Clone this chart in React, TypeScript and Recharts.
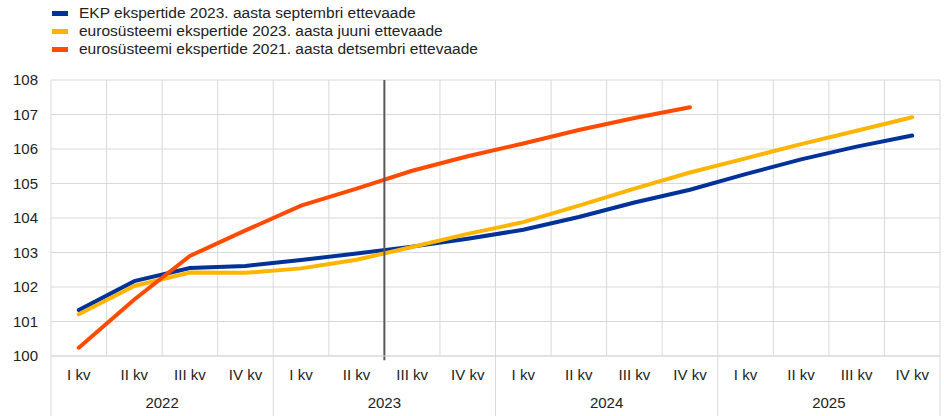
import { LineChart, Line, XAxis, YAxis, CartesianGrid, ReferenceLine } from "recharts";

const quarters = [
  "I kv", "II kv", "III kv", "IV kv",
  "I kv", "II kv", "III kv", "IV kv",
  "I kv", "II kv", "III kv", "IV kv",
  "I kv", "II kv", "III kv", "IV kv",
];
const years = [
  "2022", "2022", "2022", "2022",
  "2023", "2023", "2023", "2023",
  "2024", "2024", "2024", "2024",
  "2025", "2025", "2025", "2025",
];
const ecbSep2023 = [101.33, 102.17, 102.55, 102.61, 102.78, 102.97, 103.17, 103.4, 103.66, 104.03, 104.45, 104.82, 105.27, 105.7, 106.07, 106.39];
const eurosysJun2023 = [101.21, 102.03, 102.42, 102.41, 102.54, 102.79, 103.16, 103.54, 103.88, 104.36, 104.85, 105.32, 105.73, 106.14, 106.53, 106.92];
const eurosysDec2021 = [100.24, 101.64, 102.9, 103.64, 104.36, 104.85, 105.37, 105.79, 106.16, 106.55, 106.9, 107.21, null, null, null, null];
const yTicks = [100, 101, 102, 103, 104, 105, 106, 107, 108];
// category boundaries: grid lines sit here, labels sit half a band to the right
const boundaryTicks = [0, 1, 2, 3, 4, 5, 6, 7, 8, 9, 10, 11, 12, 13, 14, 15, 16];

const series = [
  { key: "ecb", name: "EKP ekspertide 2023. aasta septembri ettevaade", color: "#003299" },
  { key: "jun", name: "eurosüsteemi ekspertide 2023. aasta juuni ettevaade", color: "#FFB400" },
  { key: "dec", name: "eurosüsteemi ekspertide 2021. aasta detsembri ettevaade", color: "#FF4B00" },
];

const data = quarters.map((q, i) => ({
  q,
  year: years[i],
  pos: i + 0.5,
  ecb: ecbSep2023[i],
  jun: eurosysJun2023[i],
  dec: eurosysDec2021[i],
}));

const W = 944;
const H = 416;
const margin = { top: 80, right: 4, bottom: 0, left: 0 };
const yAxisW = 51;
const plotW = W - margin.left - margin.right - yAxisW;
const band = plotW / quarters.length;
const FONT = "'Liberation Sans', Arial, sans-serif";

const QuarterTick = (props: any) => {
  const { x, y, index } = props;
  return (
    <g>
      {index % 4 === 0 && <line x1={x} x2={x} y1={y} y2={y + 60} stroke="#d9d9d9" />}
      {index < quarters.length && (
        <text x={x + band / 2} y={y + 24} textAnchor="middle" fontSize={15} fill="#222" fontFamily={FONT}>
          {quarters[index]}
        </text>
      )}
      {index % 4 === 2 && (
        <text x={x} y={y + 52} textAnchor="middle" fontSize={15} fill="#222" fontFamily={FONT}>
          {years[index]}
        </text>
      )}
    </g>
  );
};

const App = () => {
  return (
    <div style={{ position: "relative", width: W, height: H, fontFamily: FONT }}>
      <style>{`body{margin:0}`}</style>
      <div style={{ position: "absolute", left: 52, top: 4, fontSize: 15.5, color: "#222", lineHeight: "18px" }}>
        {series.map((s) => (
          <div key={s.key} style={{ display: "flex", alignItems: "center" }}>
            <span style={{ display: "inline-block", width: 16, height: 5, background: s.color, marginRight: 11 }} />
            <span>{s.name}</span>
          </div>
        ))}
      </div>
      <LineChart width={W} height={H} data={data} margin={margin}>
        <CartesianGrid stroke="#d9d9d9" strokeWidth={1} />
        <XAxis
          type="number"
          dataKey="pos"
          domain={[0, 16]}
          ticks={boundaryTicks}
          interval={0}
          height={60}
          tickLine={false}
          tickSize={0}
          tickMargin={0}
          axisLine={{ stroke: "#d9d9d9" }}
          tick={<QuarterTick />}
        />
        <YAxis
          domain={[100, 108]}
          ticks={yTicks}
          width={yAxisW}
          axisLine={false}
          tickLine={false}
          tickSize={0}
          tickMargin={13}
          tick={{ fontSize: 15, fill: "#222", fontFamily: FONT }}
        />
        {series.map((s) => (
          <Line
            key={s.key}
            dataKey={s.key}
            name={s.name}
            stroke={s.color}
            strokeWidth={4}
            strokeLinecap="round"
            dot={false}
            type="linear"
            isAnimationActive={false}
          />
        ))}
        <ReferenceLine
          segment={[{ x: 6, y: 108 }, { x: 6, y: 99.88 }]}
          stroke="#595959"
          strokeWidth={2}
          ifOverflow="visible"
        />
      </LineChart>
    </div>
  );
};

export default App;
